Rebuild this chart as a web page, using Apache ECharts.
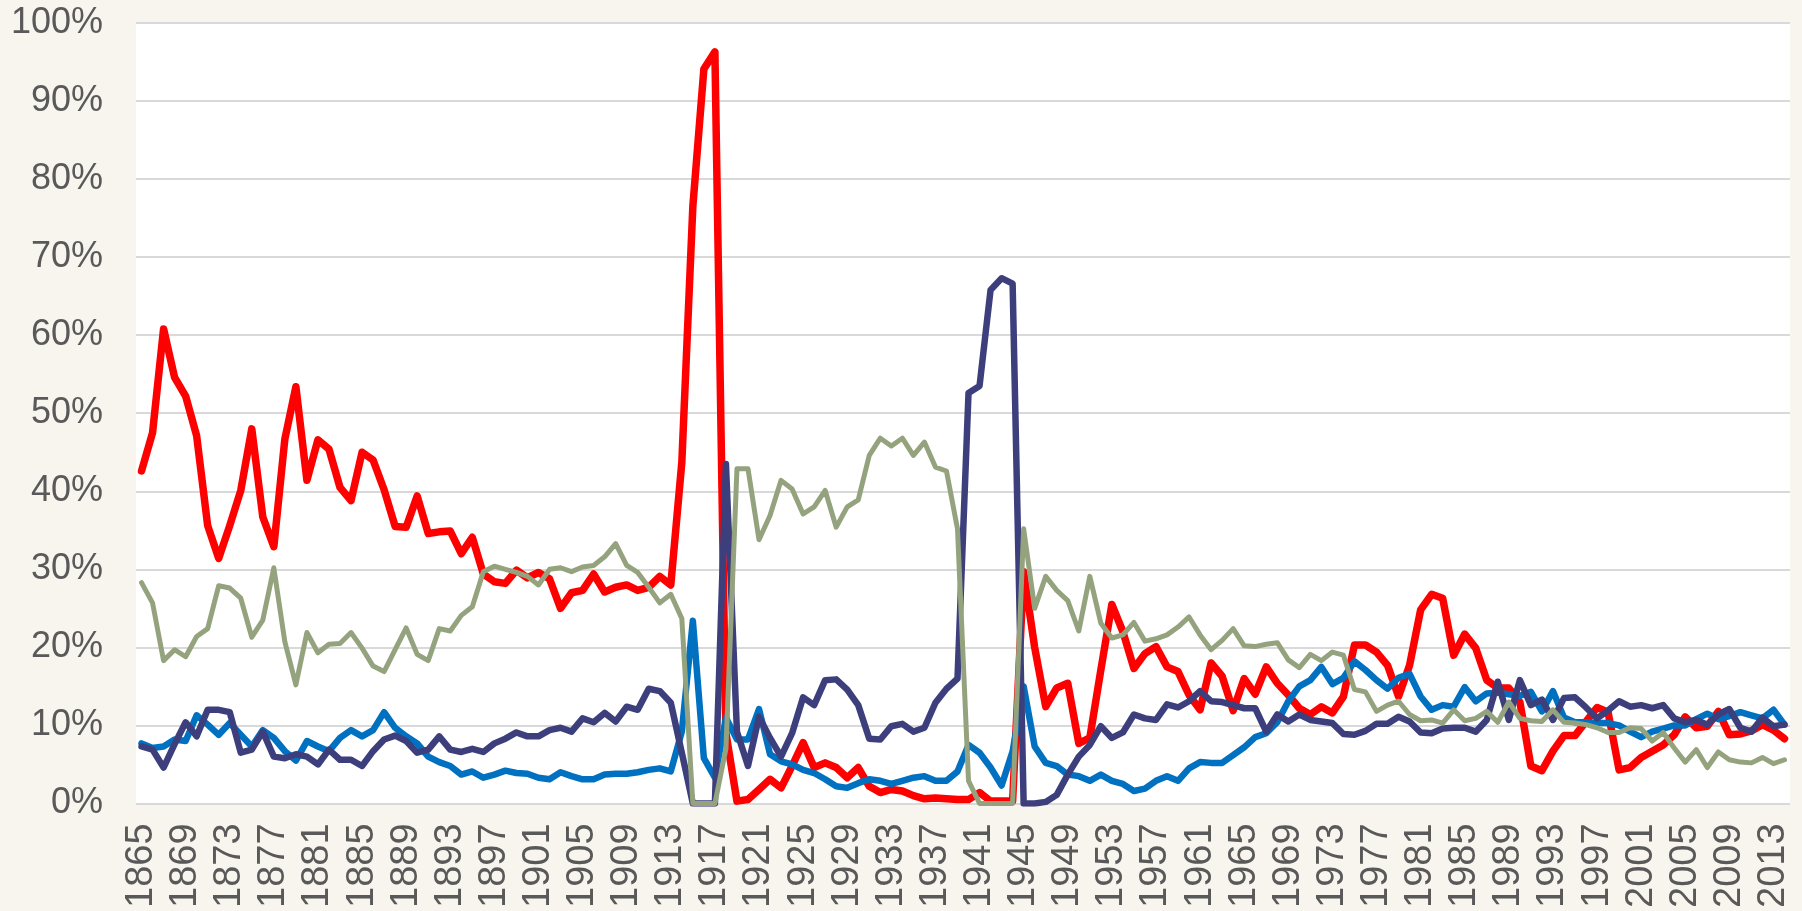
<!DOCTYPE html>
<html><head><meta charset="utf-8">
<script src="https://cdn.jsdelivr.net/npm/echarts@6/dist/echarts.min.js"></script>
<style>html,body{margin:0;padding:0;background:#F8F4EE;}#c{width:1802px;height:911px;}</style>
</head><body><div id="c"></div>
<script>
const firstYear = 1865, lastYear = 2014;
const years = [];
for (let y = firstYear; y <= lastYear; y++) years.push(String(y));

const yTicks = [0, 10, 20, 30, 40, 50, 60, 70, 80, 90, 100];

const redSeries = [
42.6,47.5,60.8,54.6,52.2,47.1,35.6,31.4,35.6,40.1,
48.0,36.7,32.9,46.7,53.4,41.4,46.6,45.4,40.5,38.8,
45.0,44.0,40.2,35.5,35.4,39.4,34.6,34.8,34.9,32.0,
34.1,29.4,28.4,28.2,29.9,28.9,29.6,28.8,25.0,27.0,
27.3,29.4,27.1,27.7,28.0,27.3,27.7,29.1,28.0,43.7,
76.5,94.1,96.3,9.0,0.3,0.5,1.8,3.1,2.0,4.8,
7.8,4.6,5.2,4.6,3.3,4.6,2.2,1.4,1.8,1.6,
1.0,0.6,0.7,0.6,0.5,0.5,1.4,0.3,0.3,0.3,
29.7,20.0,12.4,14.8,15.4,7.7,8.4,17.1,25.5,22.0,
17.3,19.2,20.1,17.5,16.9,13.9,12.0,18.0,16.3,11.9,
16.0,14.0,17.5,15.4,13.9,12.2,11.4,12.4,11.6,13.7,
20.3,20.3,19.4,17.7,13.7,17.7,24.8,26.8,26.3,19.0,
21.7,19.9,15.8,14.8,14.8,13.0,4.8,4.2,6.7,8.7,
8.7,10.5,12.3,11.7,4.3,4.6,5.9,6.7,7.5,8.8,
11.1,9.7,9.9,11.8,8.8,8.9,9.3,10.1,9.4,8.3
];

const greenSeries = [
28.3,25.7,18.3,19.7,18.8,21.4,22.4,27.9,27.6,26.3,
21.3,23.5,30.2,20.7,15.2,21.9,19.3,20.4,20.5,21.9,
19.9,17.6,16.9,19.7,22.5,19.1,18.3,22.4,22.1,24.1,
25.2,29.7,30.4,30.0,29.6,29.1,28.0,30.0,30.2,29.7,
30.3,30.5,31.6,33.3,30.5,29.6,27.7,25.7,26.8,23.7,
0,0,0,7.0,42.9,42.9,33.8,36.9,41.4,40.3,
37.1,38.0,40.1,35.4,38.0,38.9,44.6,46.8,45.8,46.8,
44.6,46.3,43.1,42.6,35.2,2.9,0,0,0,0,
35.2,25.0,29.1,27.3,26.0,22.1,29.1,23.1,21.2,21.6,
23.2,20.8,21.1,21.6,22.6,23.9,21.6,19.7,20.9,22.4,
20.2,20.1,20.4,20.6,18.4,17.4,19.1,18.3,19.4,19.0,
14.6,14.3,11.8,12.6,13.1,11.4,10.6,10.7,10.3,12.0,
10.6,10.9,11.8,10.4,13.0,10.9,10.6,10.5,12.0,10.4,
10.3,10.1,9.7,9.1,9.1,9.7,9.6,8.0,9.1,7.1,
5.3,6.9,4.6,6.6,5.6,5.3,5.2,5.9,5.1,5.6
];

const blueSeries = [
7.7,7.1,7.3,8.2,8.0,11.3,10.1,8.8,10.3,8.8,
7.3,9.4,8.4,6.7,5.5,8.0,7.3,6.7,8.4,9.4,
8.6,9.4,11.7,9.7,8.6,7.7,6.0,5.3,4.8,3.7,
4.1,3.3,3.7,4.2,3.9,3.8,3.3,3.1,4.0,3.5,
3.1,3.1,3.7,3.8,3.8,4.0,4.3,4.5,4.1,9.2,
23.4,5.8,3.3,11.0,8.2,8.2,12.1,6.3,5.4,5.0,
4.3,3.9,3.1,2.2,2.0,2.6,3.1,2.9,2.5,2.9,
3.3,3.5,2.9,2.9,4.1,7.5,6.5,4.6,2.3,6.7,
15.0,7.3,5.2,4.8,3.7,3.5,2.9,3.7,2.9,2.5,
1.6,1.9,2.9,3.5,2.9,4.5,5.3,5.2,5.2,6.2,
7.2,8.5,9.0,10.4,13.1,15.0,15.8,17.5,15.3,16.1,
18.2,17.1,15.8,14.7,16.1,16.6,13.7,12.0,12.6,12.4,
14.9,13.1,14.1,14.2,14.0,13.8,14.3,11.8,14.4,11.0,
10.4,10.4,10.3,10.3,10.0,9.2,8.5,9.2,9.6,10.0,
10.0,10.8,11.5,10.8,11.2,11.7,11.3,10.9,12.0,10.1
];

const navySeries = [
7.3,6.9,4.6,7.6,10.4,8.6,12.0,12.0,11.7,6.5,
6.9,9.2,6.0,5.8,6.3,6.0,5.0,6.9,5.6,5.6,
4.8,6.7,8.2,8.7,8.0,6.5,6.9,8.6,6.9,6.6,
7.0,6.6,7.7,8.3,9.1,8.6,8.6,9.4,9.7,9.2,
10.9,10.4,11.6,10.5,12.4,12.0,14.7,14.4,12.9,6.5,
0,0,0,43.5,9.2,4.8,11.1,8.4,6.0,9.0,
13.6,12.6,15.8,15.9,14.6,12.6,8.3,8.2,9.9,10.2,
9.2,9.7,12.9,14.7,16.0,52.6,53.5,65.8,67.3,66.6,
0,0,0.2,1.1,3.7,6.0,7.5,9.9,8.4,9.1,
11.4,10.9,10.7,12.7,12.3,13.1,14.4,13.1,13.0,12.6,
12.2,12.2,9.2,11.4,10.5,11.4,10.7,10.5,10.3,8.9,
8.8,9.3,10.2,10.2,11.1,10.5,9.1,9.0,9.6,9.7,
9.7,9.2,10.7,15.6,10.7,15.8,12.6,13.3,10.7,13.5,
13.6,12.3,10.9,11.9,13.1,12.4,12.6,12.2,12.6,10.9,
10.4,10.7,10.1,11.4,12.1,9.7,9.2,11.0,9.9,10.1
];

const chart = echarts.init(document.getElementById('c'), null, {renderer: 'canvas'});
const fontFamily = '"Liberation Sans", Arial, sans-serif';
function lineSeries(name, data, color, width) {
  return {
    name: name, type: 'line', data: data, symbol: 'none', smooth: false,
    lineStyle: {color: color, width: width, cap: 'round', join: 'round'},
    itemStyle: {color: color}
  };
}
chart.setOption({
  animation: false,
  backgroundColor: '#F8F4EE',
  grid: {left: 136, top: 23, width: 1654, height: 783, show: true, backgroundColor: '#FFFFFF', borderWidth: 0},
  xAxis: {
    type: 'category', data: years, boundaryGap: true,
    axisLine: {show: false}, axisTick: {show: false},
    axisLabel: {interval: 3, rotate: 90, fontSize: 38, color: '#595959', fontFamily: fontFamily, margin: 20}
  },
  yAxis: {
    type: 'value', min: yTicks[0], max: yTicks[yTicks.length - 1], interval: 10,
    axisLine: {show: false}, axisTick: {show: false},
    axisLabel: {formatter: '{value}%', fontSize: 36, color: '#595959', fontFamily: fontFamily, margin: 33},
    splitLine: {lineStyle: {color: '#D9D9D9', width: 2}}
  },
  series: [
    lineSeries('Red', redSeries, '#FF0000', 7.5),
    lineSeries('Blue', blueSeries, '#0070C0', 6.5),
    lineSeries('Navy', navySeries, '#3D3F7D', 6.5),
    lineSeries('Green', greenSeries, '#94A37E', 5)
  ]
});
</script></body></html>
